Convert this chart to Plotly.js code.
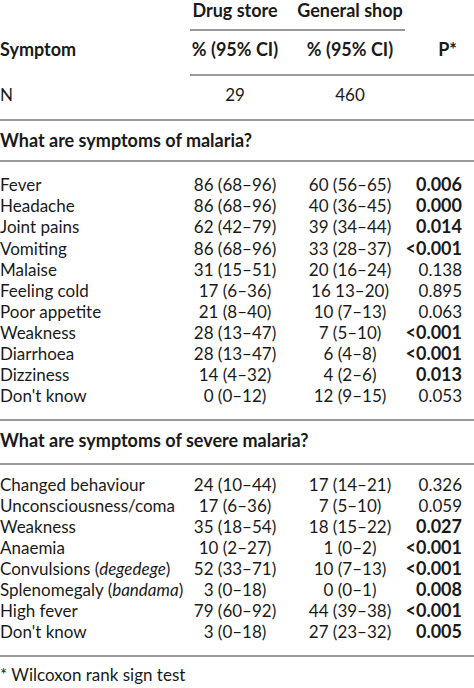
<!DOCTYPE html>
<html>
<head>
<meta charset="utf-8">
<script src="https://cdn.plot.ly/plotly-3.0.1.min.js"></script>
<style>html,body{margin:0;padding:0;background:#fff;}#chart{width:474px;height:688px;}</style>
</head>
<body>
<div id="chart"></div>
<script>
// ---- data ----
var colHeaders1 = ["Drug store", "General shop"];
var colHeaders2 = ["Symptom", "% (95% CI)", "% (95% CI)", "P*"];
var nLabel = "N";
var nValues = ["29", "460"];

var section1Title = "What are symptoms of malaria?";
var malariaSymptoms = ["Fever","Headache","Joint pains","Vomiting","Malaise","Feeling cold","Poor appetite","Weakness","Diarrhoea","Dizziness","Don't know"];
var malariaDrug = ["86 (68–96)","86 (68–96)","62 (42–79)","86 (68–96)","31 (15–51)","17 (6–36)","21 (8–40)","28 (13–47)","28 (13–47)","14 (4–32)","0 (0–12)"];
var malariaShop = ["60 (56–65)","40 (36–45)","39 (34–44)","33 (28–37)","20 (16–24)","16 13–20)","10 (7–13)","7 (5–10)","6 (4–8)","4 (2–6)","12 (9–15)"];
var malariaP = ["0.006","0.000","0.014","<0.001","0.138","0.895","0.063","<0.001","<0.001","0.013","0.053"];
var malariaSig = [true,true,true,true,false,false,false,true,true,true,false];

var section2Title = "What are symptoms of severe malaria?";
var severeSymptoms = ["Changed behaviour","Unconsciousness/coma","Weakness","Anaemia","Convulsions (<i>degedege</i>)","Splenomegaly (<i>bandama</i>)","High fever","Don't know"];
var severeDrug = ["24 (10–44)","17 (6–36)","35 (18–54)","10 (2–27)","52 (33–71)","3 (0–18)","79 (60–92)","3 (0–18)"];
var severeShop = ["17 (14–21)","7 (5–10)","18 (15–22)","1 (0–2)","10 (7–13)","0 (0–1)","44 (39–38)","27 (23–32)"];
var severeP = ["0.326","0.059","0.027","<0.001","<0.001","0.008","<0.001","0.005"];
var severeSig = [false,false,true,true,true,true,true,true];

var footnote = "* Wilcoxon rank sign test";

// ---- layout helpers ----
var W = 474, H = 688;
var X_LABEL = 0, X_DRUG = 235, X_SHOP = 350, X_P = 462;
var FONT = "Lato, 'Open Sans', sans-serif";
var TXT = "#1a1a1a";
var RULE = "#9a9a9a";

function esc(s){ return s.replace(/</g, "&lt;"); }
function bold(s){ return '<b><span style="font-size:18px">' + esc(s) + '</span></b>'; }

var labX=[], labY=[], labT=[];
var drX=[], drY=[], drT=[];
var shX=[], shY=[], shT=[];
var pX=[], pY=[], pT=[];
var shapes = [];
function rule(y, x0, x1){
  shapes.push({type:"line", xref:"x", yref:"y", x0:x0, x1:x1, y0:y, y1:y, line:{color:RULE, width:2}});
}

var y = 13;
drX.push(X_DRUG); drY.push(y); drT.push(bold(colHeaders1[0]));
shX.push(X_SHOP); shY.push(y); shT.push(bold(colHeaders1[1]));
y += 17; rule(y, 190, 405);
y += 22;
labX.push(X_LABEL); labY.push(y); labT.push(bold(colHeaders2[0]));
drX.push(X_DRUG); drY.push(y); drT.push(bold(colHeaders2[1]));
shX.push(X_SHOP); shY.push(y); shT.push(bold(colHeaders2[2]));
pX.push(X_P-5); pY.push(y); pT.push(bold(colHeaders2[3]));
y += 23; rule(y, 190, W);
y += 22;
labX.push(X_LABEL); labY.push(y); labT.push(nLabel);
drX.push(X_DRUG); drY.push(y); drT.push(nValues[0]);
shX.push(X_SHOP); shY.push(y); shT.push(nValues[1]);
y += 23; rule(y, 0, W);
y += 23;
labX.push(X_LABEL); labY.push(y); labT.push(bold(section1Title));
y += 18; rule(y, 0, W);

function addRows(names, drug, shop, p, sig, start, step){
  for (var i=0;i<names.length;i++){
    var yy = start + i*step;
    labX.push(X_LABEL); labY.push(yy); labT.push(names[i]);
    drX.push(X_DRUG); drY.push(yy); drT.push(drug[i]);
    shX.push(X_SHOP); shY.push(yy); shT.push(shop[i]);
    pX.push(X_P); pY.push(yy); pT.push(sig[i] ? bold(p[i]) : esc(p[i]));
  }
  return start + (names.length-1)*step;
}
var last = addRows(malariaSymptoms, malariaDrug, malariaShop, malariaP, malariaSig, y+26, 21.1);
y = last + 22; rule(y, 0, W);
y += 23;
labX.push(X_LABEL); labY.push(y); labT.push(bold(section2Title));
y += 21; rule(y, 0, W);
last = addRows(severeSymptoms, severeDrug, severeShop, severeP, severeSig, y+23, 21);
y = last + 22; rule(y, 0, W);
y += 21;
labX.push(X_LABEL); labY.push(y); labT.push(footnote);

function tr(x, yv, t, pos){
  return {type:"scatter", mode:"text", x:x, y:yv, text:t, textposition:pos,
    textfont:{family:FONT, size:17, color:TXT}, hoverinfo:"skip", showlegend:false, cliponaxis:false};
}
var data = [
  tr(labX, labY, labT, "middle right"),
  tr(drX, drY, drT, "middle center"),
  tr(shX, shY, shT, "middle center"),
  tr(pX, pY, pT, "middle left")
];

var layout = {
  width: W, height: H,
  margin: {l:0, r:0, t:0, b:0, pad:0},
  paper_bgcolor: "#fff", plot_bgcolor: "#fff",
  xaxis: {range:[0, W], visible:false, fixedrange:true},
  yaxis: {range:[H, 0], visible:false, fixedrange:true},
  shapes: shapes,
  showlegend: false
};
Plotly.newPlot("chart", data, layout, {displayModeBar:false, staticPlot:true});
</script>
</body>
</html>
